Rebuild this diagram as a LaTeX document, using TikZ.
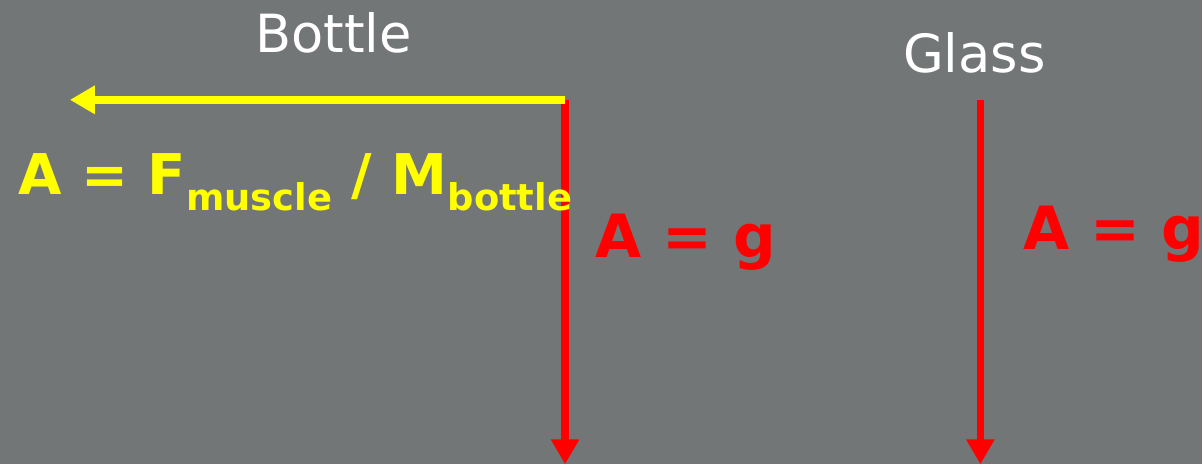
\documentclass[tikz,border=0pt]{standalone}
\usepackage{fontspec}
\setmainfont{DejaVu Sans}
\usetikzlibrary{arrows.meta}
\definecolor{Slate}{HTML}{737677}
\definecolor{Lemon}{HTML}{FFFF00}
\definecolor{Scarlet}{HTML}{FF0000}
\newcommand{\subtxt}[1]{\raisebox{-9pt}{\fontsize{21}{21}\selectfont #1}}

\begin{document}
\begin{tikzpicture}[x=0.02cm,y=-0.02cm,
      title/.style={text=white,font=\fontsize{30}{34}\selectfont,inner sep=0pt},
      formula/.style={font=\fontsize{34}{38}\selectfont\bfseries,inner sep=0pt},
      vec/.style={line width=7.5pt*0.569,-{Triangle[length=25*0.02cm,width=27*0.02cm]}}
    ]
      \fill[Slate] (0,0) rectangle (1204,465);

      \node[title,anchor=base] (bottle) at (334,53) {Bottle};
      \node[title,anchor=base] (glass) at (976,73) {Glass};

      \coordinate (corner) at (566,100);
      \coordinate (push) at (70,100);
      \coordinate (fallB) at (566,465);
      \coordinate (glassTop) at (982,100);
      \coordinate (fallG) at (982,465);

      \draw[vec,Scarlet] (corner) -- (fallB);
      \draw[vec,Scarlet] (glassTop) -- (fallG);
      \draw[vec,Lemon] (corner) -- (push);

      \node[formula,text=Lemon,anchor=base west,font=\fontsize{32}{36}\selectfont\bfseries] (accB) at (18,195)
        {A = F\subtxt{muscle} / M\subtxt{bottle}};
      \node[formula,text=Scarlet,anchor=base west] (gB) at (596,258) {A = g};
      \node[formula,text=Scarlet,anchor=base west] (gG) at (1025,250) {A = g};
    \end{tikzpicture}
\end{document}
